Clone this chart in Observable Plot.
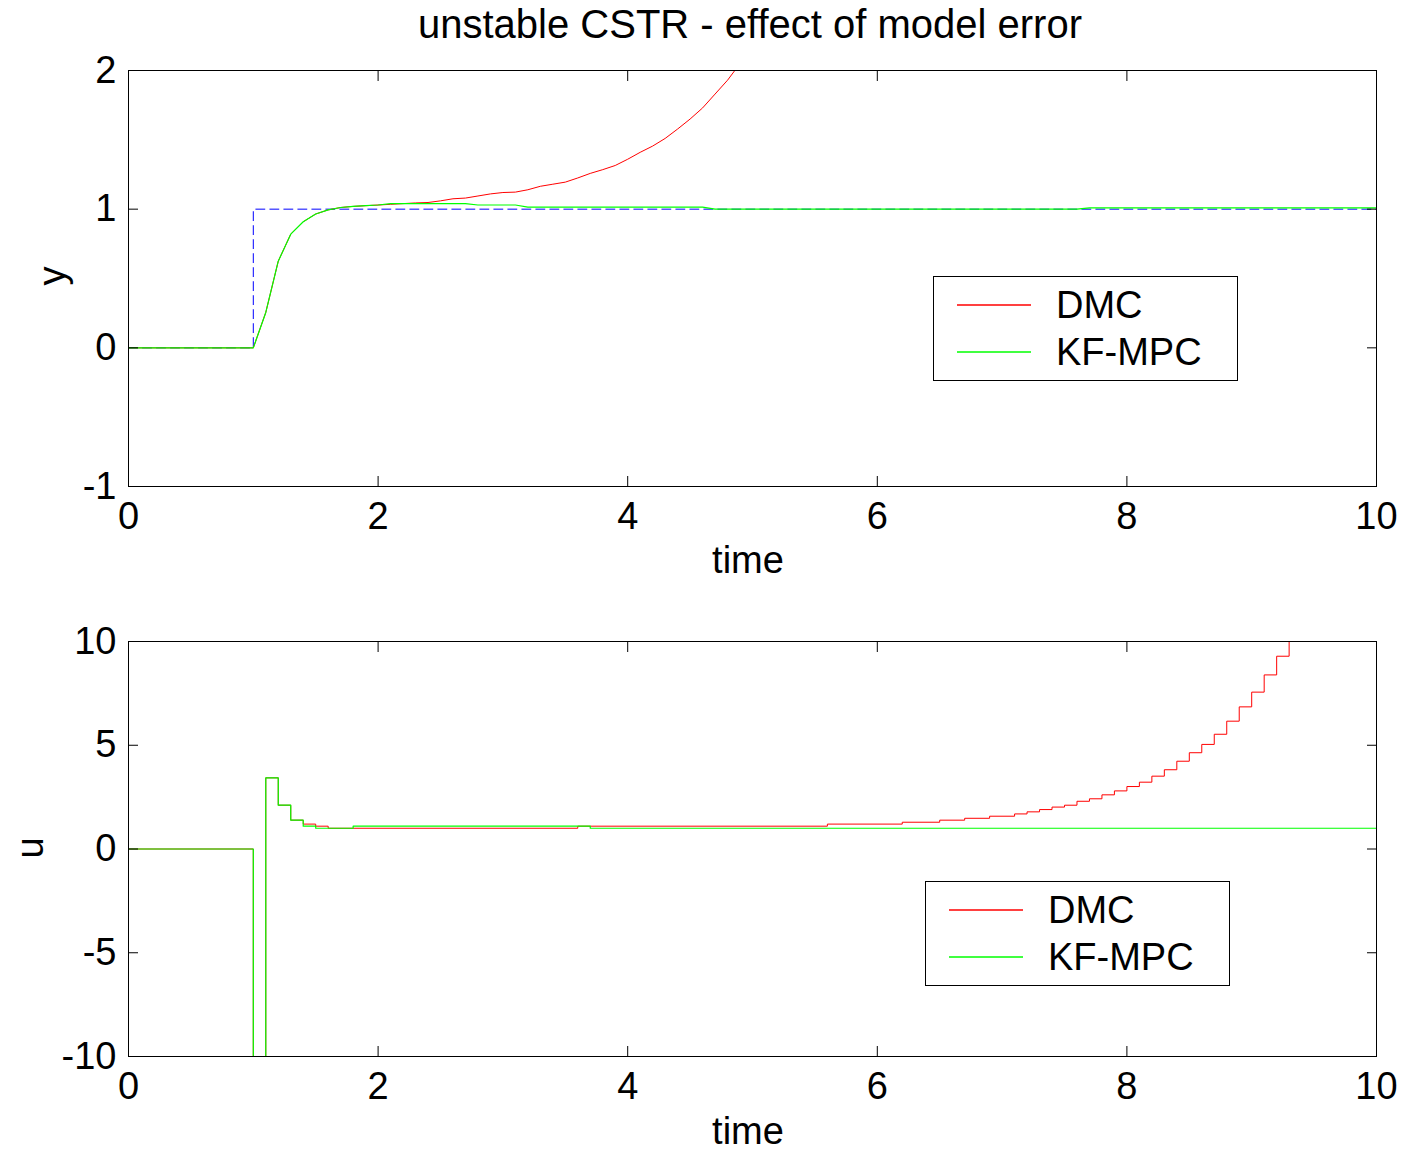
<!DOCTYPE html>
<html>
<head>
<meta charset="utf-8">
<script src="https://cdn.jsdelivr.net/npm/d3@7"></script>
<script src="https://cdn.jsdelivr.net/npm/@observablehq/plot@0.6"></script>
<style>
  body { margin: 0; background: #fff; }
  #wrap { position: relative; width: 1403px; height: 1152px; font-family: "Liberation Sans", Arial, sans-serif; color: #000; overflow: hidden; }
  .panel { position: absolute; left: 0; }
  .title { position: absolute; left: 116px; width: 1268px; top: 1px; text-align: center; font-size: 40px; line-height: 46px; white-space: nowrap; }
  .xlab { position: absolute; left: 124px; width: 1248px; text-align: center; font-size: 38px; line-height: 44px; }
  .ylab { position: absolute; font-size: 38px; line-height: 44px; transform: translate(-50%, -50%) rotate(-90deg); white-space: nowrap; }
  .legend { position: absolute; border: 1px solid #000; background: #fff; box-sizing: border-box; width: 305px; height: 105px; }
  .legend .row { position: absolute; left: 0; height: 44px; width: 100%; }
  .legend svg { position: absolute; left: 22px; top: 18px; }
  .legend .tx { position: absolute; left: 122px; top: 0; font-size: 38px; line-height: 44px; white-space: nowrap; }
</style>
</head>
<body>
<div id="wrap"></div>
<script>
// ---------- data ----------
const xTicks = [0, 2, 4, 6, 8, 10];
const yTicksTop = [-1, 0, 1, 2];
const yTicksBottom = [-10, -5, 0, 5, 10];

// setpoint (reference)
const refTime = [0, 1, 1, 10];
const refValue = [0, 0, 1, 1];

// output y, DMC
const yTimeDMC = [0, 1.0, 1.1, 1.2, 1.3, 1.4, 1.5, 1.6, 1.7, 1.8, 1.9, 2.0, 2.1, 2.2, 2.3, 2.4, 2.5, 2.6, 2.7, 2.8, 2.9, 3.0, 3.1, 3.2, 3.3, 3.4, 3.5, 3.6, 3.7, 3.8, 3.9, 4.0, 4.1, 4.2, 4.3, 4.4, 4.5, 4.6, 4.7, 4.8, 4.9];
const yDMC = [0, 0, 0.255, 0.625, 0.82, 0.909, 0.965, 0.995, 1.012, 1.02, 1.025, 1.03, 1.035, 1.04, 1.045, 1.048, 1.06, 1.075, 1.08, 1.095, 1.11, 1.12, 1.123, 1.14, 1.165, 1.18, 1.195, 1.225, 1.258, 1.285, 1.315, 1.36, 1.41, 1.455, 1.51, 1.578, 1.65, 1.73, 1.83, 1.93, 2.05];

// output y, KF-MPC
const yTimeKF = [0, 1.0, 1.1, 1.2, 1.3, 1.4, 1.5, 1.6, 1.7, 1.8, 1.9, 2.0, 2.1, 2.7, 2.8, 3.1, 3.2, 4.6, 4.7, 7.6, 7.7, 10];
const yKF = [0, 0, 0.255, 0.625, 0.82, 0.909, 0.965, 0.995, 1.012, 1.02, 1.025, 1.03, 1.04, 1.04, 1.03, 1.03, 1.015, 1.015, 1.0, 1.0, 1.01, 1.01];

// input u, DMC (piecewise constant)
const uTimeDMC = [0, 1.0, 1.1, 1.2, 1.3, 1.4, 1.5, 1.6, 3.6, 5.6, 6.2, 6.5, 6.7, 6.9, 7.1, 7.2, 7.3, 7.4, 7.5, 7.6, 7.7, 7.8, 7.9, 8.0, 8.1, 8.2, 8.3, 8.4, 8.5, 8.6, 8.7, 8.8, 8.9, 9.0, 9.1, 9.2, 9.3];
const uDMC = [0, -20, 3.43, 2.11, 1.39, 1.2, 1.1, 1.0, 1.1, 1.2, 1.29, 1.39, 1.48, 1.58, 1.69, 1.79, 1.9, 2.02, 2.11, 2.3, 2.42, 2.61, 2.8, 3.01, 3.22, 3.51, 3.82, 4.23, 4.64, 5.04, 5.53, 6.16, 6.85, 7.56, 8.39, 9.29, 10.3];

// input u, KF-MPC
const uTimeKF = [0, 1.0, 1.1, 1.2, 1.3, 1.4, 1.5, 1.8, 3.7, 10];
const uKF = [0, -20, 3.43, 2.11, 1.39, 1.1, 1.0, 1.1, 1.0, 1.0];

const seriesNames = ["DMC", "KF-MPC"];
const seriesColors = ["#ff0000", "#00ff00"];

// ---------- build ----------
const zip = (t, v) => t.map((d, i) => ({t: d, v: v[i]}));
const FONT = "'Liberation Sans', Arial, sans-serif";
const wrap = document.getElementById("wrap");

function axes(yTicks) {
  return [
    Plot.frame({stroke: "#000", strokeWidth: 1}),
    Plot.axisX({anchor: "bottom", ticks: xTicks, tickSize: -10, tickPadding: 26, label: null, tickFormat: d => String(d), stroke: "#000"}),
    Plot.axisX({anchor: "top", ticks: xTicks, tickSize: -10, tickFormat: () => "", label: null, stroke: "#000"}),
    Plot.axisY({anchor: "left", ticks: yTicks, tickSize: -10, tickPadding: 22, label: null, tickFormat: d => String(d), stroke: "#000"}),
    Plot.axisY({anchor: "right", ticks: yTicks, tickSize: -10, tickFormat: () => "", label: null, stroke: "#000"})
  ];
}

const topPanel = Plot.plot({
  width: 1403, height: 590,
  marginTop: 70, marginBottom: 104, marginLeft: 128, marginRight: 27,
  style: {fontFamily: FONT, fontSize: "38px", color: "#000", background: "transparent", overflow: "visible"},
  x: {domain: [0, 10]},
  y: {domain: [-1, 2]},
  marks: [
    Plot.line(zip(refTime, refValue), {x: "t", y: "v", stroke: "#0000ff", strokeWidth: 1, strokeDasharray: "9,5", clip: true}),
    Plot.line(zip(yTimeDMC, yDMC), {x: "t", y: "v", stroke: seriesColors[0], strokeWidth: 1, clip: true}),
    Plot.line(zip(yTimeKF, yKF), {x: "t", y: "v", stroke: seriesColors[1], strokeWidth: 1.2, clip: true}),
    ...axes(yTicksTop)
  ]
});
topPanel.classList.add("panel");
topPanel.style.top = "0px";
wrap.appendChild(topPanel);

const botPanel = Plot.plot({
  width: 1403, height: 562,
  marginTop: 51, marginBottom: 96, marginLeft: 128, marginRight: 27,
  style: {fontFamily: FONT, fontSize: "38px", color: "#000", background: "transparent", overflow: "visible"},
  x: {domain: [0, 10]},
  y: {domain: [-10, 10]},
  marks: [
    Plot.line(zip(uTimeDMC, uDMC), {x: "t", y: "v", curve: "step-after", stroke: seriesColors[0], strokeWidth: 1, clip: true}),
    Plot.line(zip(uTimeKF, uKF), {x: "t", y: "v", curve: "step-after", stroke: seriesColors[1], strokeWidth: 1.2, clip: true}),
    ...axes(yTicksBottom)
  ]
});
botPanel.classList.add("panel");
botPanel.style.top = "590px";
wrap.appendChild(botPanel);

function addDiv(cls, text, css) {
  const d = document.createElement("div");
  d.className = cls;
  d.textContent = text;
  Object.assign(d.style, css);
  wrap.appendChild(d);
  return d;
}
addDiv("title", "unstable CSTR - effect of model error", {});
addDiv("xlab", "time", {top: "538px"});
addDiv("xlab", "time", {top: "1109px"});
addDiv("ylab", "y", {left: "52px", top: "276px"});
addDiv("ylab", "u", {left: "30px", top: "848px"});

const SVGNS = "http://www.w3.org/2000/svg";
function legend(left, topPx) {
  const box = document.createElement("div");
  box.className = "legend";
  box.style.left = left + "px";
  box.style.top = topPx + "px";
  seriesNames.forEach((name, i) => {
    const row = document.createElement("div");
    row.className = "row";
    row.style.top = (6 + i * 47) + "px";
    const svg = document.createElementNS(SVGNS, "svg");
    svg.setAttribute("width", "78");
    svg.setAttribute("height", "8");
    const ln = document.createElementNS(SVGNS, "line");
    ln.setAttribute("x1", "1"); ln.setAttribute("x2", "75");
    ln.setAttribute("y1", "4"); ln.setAttribute("y2", "4");
    ln.setAttribute("stroke", seriesColors[i]);
    ln.setAttribute("stroke-width", "1.3");
    svg.appendChild(ln);
    const tx = document.createElement("div");
    tx.className = "tx";
    tx.textContent = name;
    row.appendChild(svg); row.appendChild(tx);
    box.appendChild(row);
  });
  wrap.appendChild(box);
}
legend(933, 276);
legend(925, 881);
</script>
</body>
</html>
